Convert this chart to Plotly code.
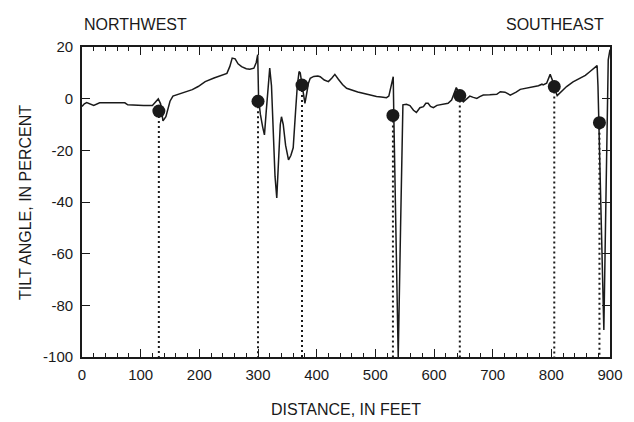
import plotly.graph_objects as go

# Tilt-angle profile
distance_ft = [0, 4, 8, 14, 20, 30, 45, 60, 73, 78, 90, 105, 120, 126, 130, 134, 138, 143, 150, 155,
               165, 176, 188, 198, 210, 225, 240, 247, 252, 256, 261, 266, 272, 280, 286, 293, 297, 299.5,
               301, 304, 308, 311, 314, 317, 320, 323, 326, 329, 332, 335, 338, 340, 343, 347, 352, 356,
               360, 364, 367, 370, 372, 374, 377, 380, 383, 386, 389, 395, 402, 406, 413, 420, 426, 431,
               437, 444, 451, 460, 470, 479, 490, 502, 510, 519, 523, 526, 529, 530.5, 531.5, 535, 539,
               543, 547, 553, 559, 565, 570, 576, 582, 586, 590, 594, 599, 605, 610, 617, 624, 630, 635,
               638, 641, 645, 650, 656, 661, 667, 673, 678, 684, 695, 707, 713, 721, 730, 740, 747, 758,
               769, 778, 784, 786, 792, 795, 798, 802, 806, 810, 818, 826, 837, 849, 858, 866, 873, 878,
               879.5, 881, 885, 889.5, 893, 897, 900]
tilt_pct = [-3, -2, -1.5, -2.2, -2.6, -1.6, -1.5, -1.5, -1.6, -2.4, -2.6, -2.6, -2.6, -1.2, -0.1, -2, -8.6, -7, -1, 1,
            1.8, 2.7, 3.5, 4.7, 6.6, 8, 9.2, 9.8, 12.5, 15.7, 15.4, 13.5, 12.4, 11.6, 11.4, 11.8, 14, 17,
            0, -6, -11, -14, -5, 5, 11.8, 5, -12, -30, -38.4, -25, -10, -7, -10, -18, -23.7, -22,
            -19, -5, 5, 10.5, 10, 7, 2, -1.8, 2, 6, 7.9, 8.6, 8.8, 8.5, 7.2, 6.6, 8, 9.4,
            7.5, 5.5, 4, 3.2, 2.6, 2.1, 1.4, 0.8, 0.6, 0.4, 1, 4, 8, 8.5, -6.5, -50, -100,
            -50, -2.4, -2.2, -2.7, -4.5, -5.3, -3.5, -3.1, -1.8, -1.8, -3, -3.5, -2.6, -2.4, -2, -1.8, -0.5, 2.5,
            4.3, 3, 0.5, -1.2, 0, 1, 0.5, 0.1, 0.8, 1.4, 1.5, 1.7, 2.7, 2.5, 1.4, 2.5, 3.6, 4,
            4.7, 5, 5.6, 5.3, 6, 8, 9.4, 7, 3.5, 1.2, 3, 4.7, 6.5, 7.9, 9, 10.5, 11.8, 12.8,
            5, -9.5, -50, -89.5, -40, 15, 19]

# Marked points
mark_x = [131, 300, 375, 530, 644, 805, 882]
mark_y = [-4.8, -1, 5.3, -6.5, 1.2, 4.7, -9.3]

x_ticks = [0, 100, 200, 300, 400, 500, 600, 700, 800, 900]
x_tick_labels = ["0", "100", "200", "300", "400", "500", "600", "700", "800", "900"]
y_ticks = [20, 0, -20, -40, -60, -80, -100]
y_tick_labels = ["20", "0", "-20", "-40", "-60", "-80", "-100"]
y_min, y_max = -100, 20

ink = "#1a1a1a"
fam = "Liberation Sans, Arial, sans-serif"
tick_font = dict(family=fam, size=15, color=ink)
title_font = dict(family=fam, size=16, color=ink)

fig = go.Figure()

# dotted drop lines from each marker to the bottom axis
dx, dy = [], []
for xv, yv in zip(mark_x, mark_y):
    dx += [xv, xv, None]
    dy += [yv, y_min, None]
fig.add_trace(go.Scatter(x=dx, y=dy, mode="lines",
                         line=dict(color=ink, width=2, dash="2px,3px"),
                         hoverinfo="skip", showlegend=False))

fig.add_trace(go.Scatter(x=distance_ft, y=tilt_pct, mode="lines",
                         line=dict(color=ink, width=1.5), showlegend=False))

fig.add_trace(go.Scatter(x=mark_x, y=mark_y, mode="markers",
                         marker=dict(color=ink, size=13), showlegend=False))

# page body has an 8px margin, so the figure is sized/offset to land the plot at the right place
fig.update_layout(
    width=626, height=414,
    margin=dict(l=74, r=24, t=39, b=65),
    paper_bgcolor="white", plot_bgcolor="white",
    font=tick_font,
    xaxis=dict(range=[0, 900], tickvals=x_ticks, ticktext=x_tick_labels, ticks="inside", ticklen=8,
               tickwidth=1.2, tickcolor=ink, showline=True, linecolor=ink, linewidth=1.8, mirror="ticks",
               showgrid=False, zeroline=False, ticklabelstandoff=3, tickfont=tick_font,
               minor=dict(dtick=20, ticks="inside", ticklen=4, tickwidth=1, tickcolor=ink, showgrid=False)),
    yaxis=dict(range=[y_min, y_max], tickvals=y_ticks, ticktext=y_tick_labels, ticks="inside", ticklen=8,
               tickwidth=1.2, tickcolor=ink, showline=True, linecolor=ink, linewidth=1.8, mirror="ticks",
               showgrid=False, zeroline=False, ticklabelstandoff=4, tickfont=tick_font),
    annotations=[
        dict(text="NORTHWEST", x=0, y=1.071, xref="paper", yref="paper", xanchor="left",
             yanchor="middle", showarrow=False, font=title_font),
        dict(text="SOUTHEAST", x=0.992, y=1.071, xref="paper", yref="paper", xanchor="right",
             yanchor="middle", showarrow=False, font=title_font),
        dict(text="DISTANCE, IN FEET", x=0.5, y=-0.168, xref="paper", yref="paper", xanchor="center",
             yanchor="middle", showarrow=False, font=title_font),
        dict(text="TILT ANGLE, IN PERCENT", x=-0.108, y=0.5, xref="paper", yref="paper", xanchor="center",
             yanchor="middle", showarrow=False, textangle=-90, font=title_font),
    ],
)

fig.write_html("out.html")
